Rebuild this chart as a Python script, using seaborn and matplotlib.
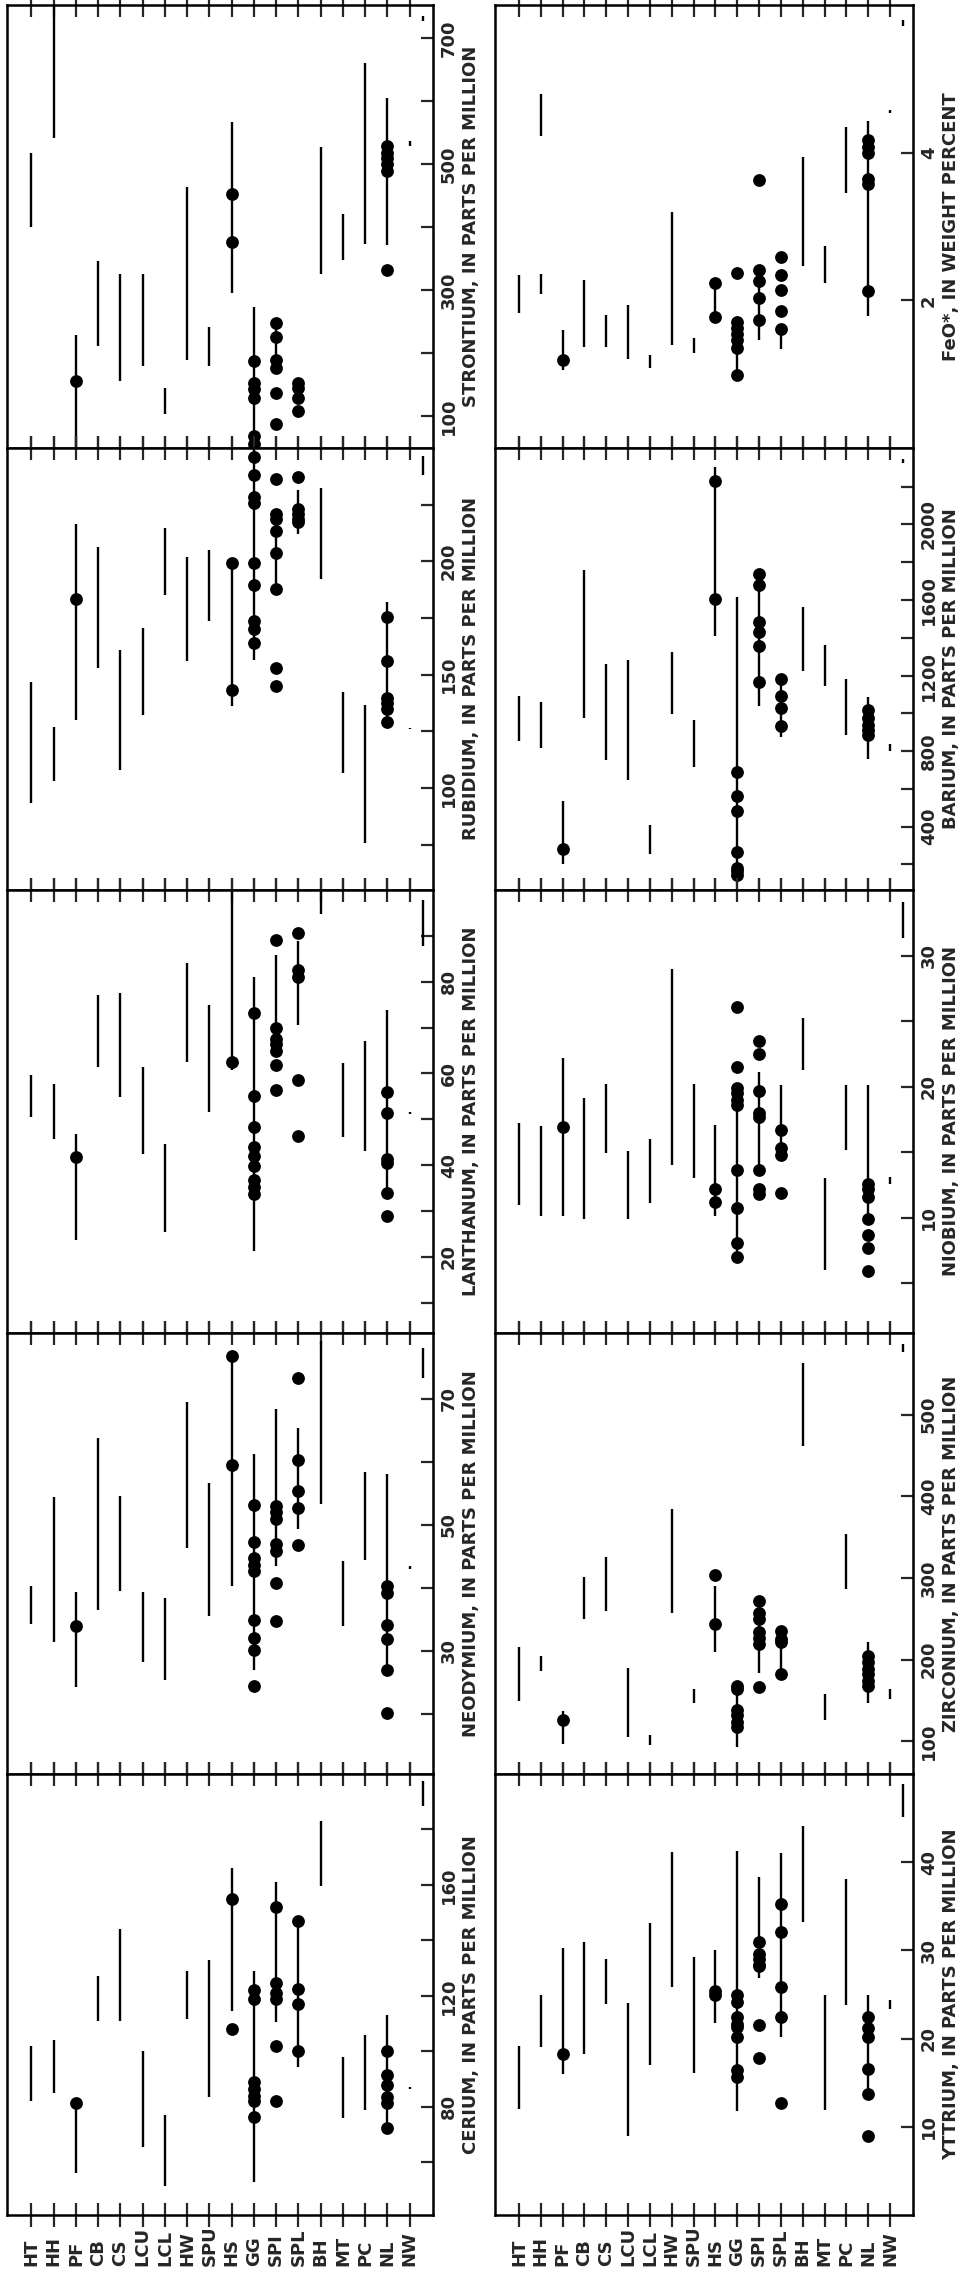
import numpy as np
import pandas as pd
import matplotlib
matplotlib.use("Agg")
import matplotlib.pyplot as plt
import matplotlib.transforms as mtransforms
import seaborn as sns

sns.set_style("white")
plt.rcParams["font.family"] = ["DejaVu Sans"]
plt.rcParams["font.weight"] = "bold"

cats = ["HT", "HH", "PF", "CB", "CS", "LCU", "LCL", "HW", "SPU",
        "HS", "GG", "SPI", "SPL", "BH", "MT", "PC", "NL", "NW"]

# ---- cerium ----
ce_ranges = [("HT", 82, 102), ("HH", 85, 104), ("PF", 56, 81.5), ("CB", 111, 127),
             ("CS", 111, 144), ("LCU", 65.5, 100), ("LCL", 51.5, 77), ("HW", 111.5, 129),
             ("SPU", 83.5, 133), ("HS", 114.5, 166), ("GG", 53, 129), ("SPI", 110.5, 161),
             ("SPL", 94.5, 147), ("BH", 159.5, 183), ("MT", 76, 98), ("PC", 79, 106),
             ("NL", 70.5, 113), ("NW", 86.3, 87.3)]
ce_dots = {"PF": [81.5], "HS": [155, 108],
           "GG": [122, 119, 89, 86.5, 84, 82, 76.5],
           "SPI": [152, 124.5, 121, 119, 102, 82],
           "SPL": [147, 122.5, 117, 100],
           "NL": [100, 91.5, 88, 83.5, 81.5, 72.5]}
ce_edge = (188.5, 197.5)

# ---- neodymium ----
nd_ranges = [("HT", 34.3, 40.3), ("HH", 31.5, 54.4), ("PF", 24.3, 39.3), ("CB", 36.5, 63.8),
             ("CS", 39.5, 54.5), ("LCU", 28.3, 39.3), ("LCL", 25.4, 38.4), ("HW", 46.4, 69.5),
             ("SPU", 35.5, 56.6), ("HS", 40.3, 76.7), ("GG", 27.0, 61.3), ("SPI", 43.5, 68.4),
             ("SPL", 49.3, 65.3), ("BH", 53.3, 79.1), ("MT", 34.0, 44.3), ("PC", 44.4, 58.4),
             ("NL", 26.4, 58.1), ("NW", 43.0, 43.5)]
nd_dots = {"PF": [34.0], "HS": [76.7, 59.4],
           "GG": [53.1, 47.2, 44.8, 43.7, 42.7, 34.9, 32.0, 30.2, 24.4],
           "SPI": [53.0, 52.0, 50.9, 46.9, 45.9, 40.8, 34.8],
           "SPL": [73.2, 60.3, 55.4, 52.6, 46.8],
           "NL": [40.3, 39.2, 34.1, 31.9, 27.0, 20.2]}
nd_edge = (73.2, 78.0)

# ---- lanthanum ----
la_ranges = [("HT", 50.6, 59.6), ("HH", 45.8, 57.8), ("PF", 23.7, 46.7), ("CB", 61.5, 77.0),
             ("CS", 54.8, 77.5), ("LCU", 42.4, 61.3), ("LCL", 25.5, 44.6), ("HW", 62.5, 84.0),
             ("SPU", 51.5, 75.0), ("HS", 60.7, 100), ("GG", 21.3, 81.0), ("SPI", 64.9, 85.8),
             ("SPL", 70.5, 88.8), ("BH", 94.8, 100), ("MT", 46.1, 62.2), ("PC", 43.1, 67.1),
             ("NL", 33.4, 73.9), ("NW", 51.2, 51.6)]
la_dots = {"PF": [41.8], "HS": [62.5],
           "GG": [73.1, 55.1, 48.4, 43.9, 42.0, 39.8, 36.8, 35.3, 33.8],
           "SPI": [89.2, 70.0, 67.5, 66.4, 65.0, 61.9, 56.4],
           "SPL": [90.7, 82.5, 81.0, 58.5, 46.3],
           "NL": [56.0, 51.4, 41.3, 40.5, 33.9, 28.9]}
la_edge = (87.7, 97.8)

# ---- rubidium ----
rb_ranges = [("HT", 93.2, 146.6), ("HH", 103, 127.1), ("PF", 130.1, 216.5), ("CB", 152.9, 206.5),
             ("CS", 107.8, 160.9), ("LCU", 132.3, 170.4), ("LCL", 185, 214.6), ("HW", 155.9, 202),
             ("SPU", 173.7, 205), ("HS", 136.1, 199.2), ("GG", 156.4, 250), ("SPI", 188, 222.6),
             ("SPL", 212, 231.6), ("BH", 192, 232.3), ("MT", 106.8, 142.4), ("PC", 75.9, 136.8),
             ("NL", 127.1, 182), ("NW", 126, 126.6)]
rb_dots = {"PF": [183.5], "HS": [199.2, 143.3],
           "GG": [245.9, 238.3, 228.6, 225.6, 199.2, 189.5, 173.7, 170.0, 163.9],
           "SPI": [236.5, 221.1, 218.8, 213.5, 203.5, 188.0, 152.9, 145.1],
           "SPL": [237.3, 223.3, 221.1, 218.8, 217.3],
           "NL": [175.6, 155.9, 139.8, 137.6, 134.9, 129.3]}
rb_edge = (238.3, 246.6)

# ---- strontium ----
sr_ranges = [("HT", 400.5, 518.5), ("HH", 542, 753), ("PF", 50, 230), ("CB", 211.6, 346.6),
             ("CS", 157, 325.4), ("LCU", 180, 325.4), ("LCL", 104, 145.5), ("HW", 189, 464),
             ("SPU", 180, 242), ("HS", 296, 568), ("GG", 50, 273.5), ("SPI", 177, 248.7),
             ("SPL", 145.5, 153.4), ("BH", 326.5, 527.5), ("MT", 347.6, 421.7), ("PC", 373, 661.4),
             ("NL", 372, 605.8), ("NW", 529, 537)]
sr_dots = {"PF": [156], "HS": [453.4, 377.2],
           "GG": [187.8, 153.4, 142.9, 129.6, 68.8, 55.6],
           "SPI": [248.7, 225.9, 188.9, 177.2, 137.6, 87.3],
           "SPL": [153.4, 145.5, 129.6, 109.5],
           "NL": [529, 518.5, 510.6, 500, 489.4, 331.7]}
sr_edge = (727.5, 735.4)

# ---- yttrium ----
y_ranges = [("HT", 12.0, 19.2), ("HH", 19.0, 25.0), ("PF", 16.0, 30.3), ("CB", 18.2, 31.0),
            ("CS", 23.9, 29.0), ("LCU", 9.0, 24.0), ("LCL", 17.0, 33.1), ("HW", 25.9, 41.1),
            ("SPU", 16.1, 29.3), ("HS", 21.8, 30.1), ("GG", 11.8, 41.3), ("SPI", 26.9, 38.3),
            ("SPL", 20.2, 41.0), ("BH", 33.2, 44.1), ("MT", 11.9, 24.9), ("PC", 23.8, 38.1),
            ("NL", 13.7, 25.0), ("NW", 23.3, 24.4)]
y_dots = {"PF": [18.2], "HS": [25.4, 24.9],
          "GG": [24.9, 24.2, 22.4, 21.7, 21.3, 20.2, 16.4, 15.6],
          "SPI": [30.9, 29.6, 29.0, 28.4, 28.2, 21.5, 17.8],
          "SPL": [35.3, 32.1, 25.9, 22.4, 12.7],
          "NL": [22.5, 21.2, 20.2, 16.5, 13.7, 9.0]}
y_edge = (45.1, 48.9)

# ---- zirconium ----
zr_ranges = [("HT", 149, 215.2), ("HH", 186.2, 204.9), ("PF", 97.3, 136.6), ("CB", 250.4, 300.8),
             ("CS", 259.5, 325.6), ("LCU", 104.8, 190.4), ("LCL", 95.2, 107.7), ("HW", 256.6, 384.8),
             ("SPU", 147, 163.5), ("HS", 209, 289.7), ("GG", 93.2, 173.8), ("SPI", 184.2, 273.1),
             ("SPL", 182.1, 235.9), ("BH", 462.2, 562.7), ("MT", 126.3, 158.5), ("PC", 286.8, 353.8),
             ("NL", 147, 221.4), ("NW", 151.9, 163.5)]
zr_dots = {"PF": [126.3], "HS": [303.3, 244.2],
           "GG": [167.6, 163.5, 138.7, 132.5, 124.2, 118.0],
           "SPI": [271.9, 256.6, 250.4, 233.8, 226.4, 219.3, 166.8],
           "SPL": [234.6, 225.5, 221.4, 182.1],
           "NL": [204.9, 196.6, 188.3, 182.1, 173.8, 167.6]}
zr_edge = (577.1, 586.3)

# ---- niobium ----
nb_ranges = [("HT", 11.0, 17.2), ("HH", 10.1, 17.0), ("PF", 10.1, 22.2), ("CB", 9.9, 19.1),
             ("CS", 14.9, 20.2), ("LCU", 9.9, 15.1), ("LCL", 11.1, 16.0), ("HW", 14.0, 29.0),
             ("SPU", 13.0, 20.2), ("HS", 10.1, 17.1), ("GG", 7.0, 19.9), ("SPI", 13.6, 21.1),
             ("SPL", 14.8, 20.1), ("BH", 21.3, 25.2), ("MT", 6.0, 13.0), ("PC", 15.2, 20.1),
             ("NL", 9.9, 20.1), ("NW", 12.6, 13.1)]
nb_dots = {"PF": [16.9], "HS": [12.2, 11.2],
           "GG": [26.1, 21.5, 19.9, 19.5, 19.0, 18.6, 13.6, 10.7, 8.1, 7.0],
           "SPI": [23.5, 22.5, 19.7, 18.0, 17.7, 13.6, 12.2, 11.8],
           "SPL": [16.7, 15.3, 14.8, 11.9],
           "NL": [12.6, 12.2, 11.6, 9.9, 8.7, 7.7, 5.9]}
nb_edge = (31.3, 34.1)

# ---- barium ----
ba_ranges = [("HT", 855, 1091), ("HH", 818, 1060), ("PF", 200, 536), ("CB", 973, 1758),
             ("CS", 755, 1260), ("LCU", 645, 1282), ("LCL", 255, 409), ("HW", 995, 1327),
             ("SPU", 718, 964), ("HS", 1409, 2304), ("GG", 173, 1618), ("SPI", 1036, 1736),
             ("SPL", 873, 1182), ("BH", 1224, 1564), ("MT", 1145, 1364), ("PC", 885, 1182),
             ("NL", 758, 1085), ("NW", 800, 836)]
ba_dots = {"PF": [282], "HS": [2231, 1605],
           "GG": [691, 564, 482, 264, 182, 164, 145],
           "SPI": [1736, 1678, 1485, 1431, 1355, 1164],
           "SPL": [1182, 1091, 1027, 933],
           "NL": [1018, 973, 936, 909, 885]}
ba_edge = (2325, 2345)

# ---- FeO* ----
fe_ranges = [("HT", 1.83, 2.34), ("HH", 4.23, 4.79), ("HH", 2.09, 2.35), ("PF", 1.05, 1.6),
             ("CB", 1.37, 2.28), ("CS", 1.37, 1.80), ("LCU", 1.2, 1.94), ("LCL", 1.08, 1.26),
             ("HW", 1.40, 3.19), ("SPU", 1.28, 1.49), ("HS", 1.78, 2.24), ("GG", 0.99, 1.71),
             ("SPI", 1.46, 2.42), ("SPL", 1.34, 1.61), ("BH", 2.46, 3.94), ("MT", 2.23, 2.74),
             ("PC", 3.45, 4.35), ("NL", 1.79, 4.43), ("NW", 4.54, 4.58)]
fe_dots = {"PF": [1.19], "HS": [2.24, 1.78],
           "GG": [2.37, 1.71, 1.62, 1.55, 1.46, 1.35, 0.99],
           "SPI": [3.63, 2.41, 2.26, 2.03, 1.73],
           "SPL": [2.59, 2.34, 2.14, 1.86, 1.61],
           "NL": [4.17, 4.08, 3.99, 3.65, 3.58, 2.12]}
fe_edge = (5.71, 5.80)

panels = [
    # name, ranges, dots, edge, ylim, ticks, tick labels, axis title, column, row
    ("Sr", sr_ranges, sr_dots, sr_edge, (50, 753), [100, 200, 300, 400, 500, 600, 700],
     ["100", "", "300", "", "500", "", "700"], "STRONTIUM, IN PARTS PER MILLION", 0, 0),
    ("Rb", rb_ranges, rb_dots, rb_edge, (55, 250), [75, 100, 125, 150, 175, 200, 225],
     ["", "100", "", "150", "", "200", ""], "RUBIDIUM, IN PARTS PER MILLION", 0, 1),
    ("La", la_ranges, la_dots, la_edge, (3.4, 100), [10, 20, 30, 40, 50, 60, 70, 80, 90],
     ["", "20", "", "40", "", "60", "", "80", ""], "LANTHANUM, IN PARTS PER MILLION", 0, 2),
    ("Nd", nd_ranges, nd_dots, nd_edge, (10.5, 80.4), [20, 30, 40, 50, 60, 70],
     ["", "30", "", "50", "", "70"], "NEODYMIUM, IN PARTS PER MILLION", 0, 3),
    ("Ce", ce_ranges, ce_dots, ce_edge, (41, 200), [60, 80, 100, 120, 140, 160, 180],
     ["", "80", "", "120", "", "160", ""], "CERIUM, IN PARTS PER MILLION", 0, 4),
    ("FeO", fe_ranges, fe_dots, fe_edge, (0, 6), [2, 4],
     ["2", "4"], "FeO*, IN WEIGHT PERCENT", 1, 0),
    ("Ba", ba_ranges, ba_dots, ba_edge, (64, 2405), list(range(200, 2400, 200)),
     ["", "400", "", "800", "", "1200", "", "1600", "", "2000", ""], "BARIUM, IN PARTS PER MILLION", 1, 1),
    ("Nb", nb_ranges, nb_dots, nb_edge, (1.2, 35), [5, 10, 15, 20, 25, 30],
     ["", "10", "", "20", "", "30"], "NIOBIUM, IN PARTS PER MILLION", 1, 2),
    ("Zr", zr_ranges, zr_dots, zr_edge, (60, 600), [100, 200, 300, 400, 500],
     ["100", "200", "300", "400", "500"], "ZIRCONIUM, IN PARTS PER MILLION", 1, 3),
    ("Y", y_ranges, y_dots, y_edge, (0, 50), [10, 20, 30, 40],
     ["10", "20", "30", "40"], "YTTRIUM, IN PARTS PER MILLION", 1, 4),
]

W, H = 973, 2273
rows_px = [5, 448, 890, 1333, 1774, 2215]
cols_px = [(7, 433), (495, 913)]
xpos = {c: i for i, c in enumerate(cats)}

fig = plt.figure(figsize=(W / 100, H / 100), dpi=100)

for name, ranges, dots, edge, ylim, ticks, labels, title, col, row in panels:
    x0, x1 = cols_px[col]
    top, bot = rows_px[row], rows_px[row + 1]
    ax = fig.add_axes([x0 / W, 1 - bot / H, (x1 - x0) / W, (bot - top) / H])

    rng = pd.DataFrame(ranges, columns=["cat", "lo", "hi"])
    rng["x"] = rng["cat"].map(xpos)
    ax.vlines(rng["x"], rng["lo"], rng["hi"], color="black", lw=1.7)
    ax.vlines([len(cats) - 0.4], edge[0], edge[1], color="black", lw=1.7)

    pts = pd.DataFrame([(c, v) for c, vals in dots.items() for v in vals], columns=["cat", "value"])
    pts["x"] = pts["cat"].map(xpos)
    sns.scatterplot(data=pts, x="x", y="value", ax=ax, color="black", s=85,
                    linewidth=0, clip_on=False, legend=False, zorder=3)

    ax.set_xlim(-1.1, 18.05)
    ax.set_ylim(*ylim)
    ax.set_xticks(range(len(cats)))
    ax.set_xticklabels([])
    ax.tick_params(axis="x", direction="inout", length=17, width=1.6,
                   top=True, bottom=True, labelbottom=False)
    ax.set_xlabel("")

    ax.yaxis.tick_right()
    ax.yaxis.set_label_position("right")
    ax.set_yticks(ticks)
    ax.set_yticklabels(labels, rotation=90, va="center", fontsize=13, fontweight="bold")
    ax.tick_params(axis="y", direction="in", length=9, width=1.6, pad=5,
                   left=False, right=True)
    ax.set_ylabel(title, rotation=90, fontsize=13, fontweight="bold", labelpad=3)

    for s in ax.spines.values():
        s.set_visible(True)
        s.set_linewidth(1.8)
        s.set_color("black")

    if row == 4:
        trans = mtransforms.blended_transform_factory(ax.transData, fig.transFigure)
        for i, c in enumerate(cats):
            ax.text(i, 1 - 2266 / H, c, transform=trans, rotation=90, ha="center",
                    va="bottom", fontsize=13, fontweight="bold")

fig.savefig("out.png", dpi=100)
